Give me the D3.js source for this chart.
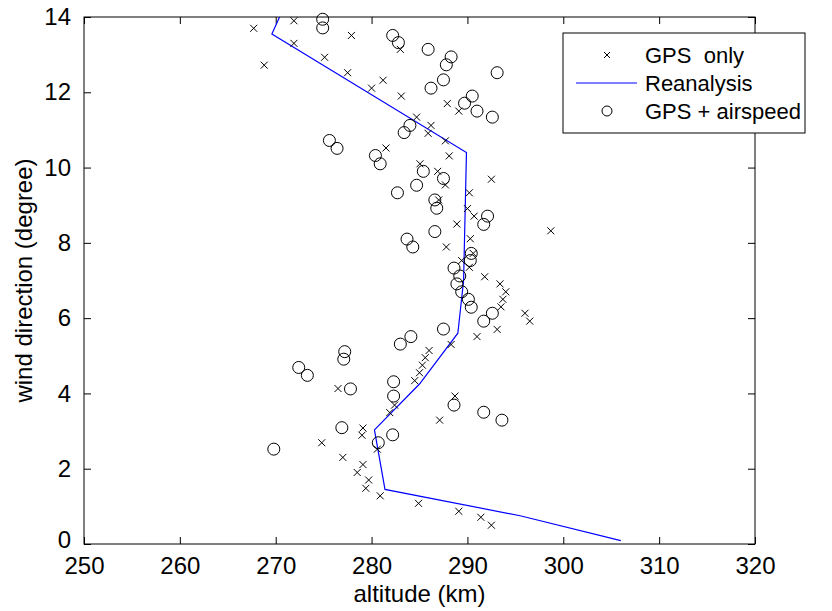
<!DOCTYPE html>
<html>
<head>
<meta charset="utf-8">
<script src="https://cdn.jsdelivr.net/npm/d3@7"></script>
<style>
    body { margin: 0; background: #fff; }
    text { font-family: "Liberation Sans", Arial, sans-serif; }
</style>
</head>
<body>
<div id="chart"></div>
<script>
// GPS only (altitude km, wind direction)
var gpsOnly = [
    [267.7, 13.70], [271.9, 13.90], [268.8, 12.72], [271.9, 13.30], [277.9, 13.51], [275.1, 12.93],
    [283.0, 13.14], [277.5, 12.52], [280.0, 12.11], [281.2, 12.32], [283.1, 11.90], [284.7, 11.34],
    [286.2, 11.12], [285.9, 10.91], [287.9, 11.70], [289.1, 11.50],
    [287.7, 10.71], [281.5, 10.52], [288.1, 10.31], [285.05, 10.10], [286.9, 9.90], [292.5, 9.69],
    [287.7, 9.54], [290.2, 9.33], [287.0, 9.14], [290.0, 8.91], [290.7, 8.71], [288.9, 8.50],
    [290.3, 8.11], [287.8, 7.89], [290.6, 7.72], [289.4, 7.53], [298.7, 8.32],
    [290.2, 7.35], [291.8, 7.10], [293.4, 6.91], [294.0, 6.70], [293.7, 6.50], [293.5, 6.30],
    [296.0, 6.13], [296.5, 5.92], [293.1, 5.70], [291.0, 5.51], [288.3, 5.30], [286.0, 5.14],
    [285.6, 4.95], [285.3, 4.75], [285.0, 4.55], [284.5, 4.34], [276.5, 4.13], [288.7, 3.93],
    [282.4, 3.69], [281.9, 3.49], [287.1, 3.29], [279.1, 3.08], [279.0, 2.89], [274.8, 2.69],
    [280.6, 2.52], [277.0, 2.30], [279.1, 2.11], [278.5, 1.90], [279.7, 1.70], [279.4, 1.48],
    [280.9, 1.28], [284.9, 1.08], [289.1, 0.87], [291.4, 0.71], [292.5, 0.50]
];

// GPS + airspeed
var gpsAirspeed = [
    [274.9, 13.94], [274.9, 13.71], [282.2, 13.51], [282.8, 13.32], [285.9, 13.14], [288.3, 12.94],
    [287.8, 12.73], [293.1, 12.52], [287.5, 12.33], [286.2, 12.11], [290.5, 11.90], [289.7, 11.71],
    [291.0, 11.50], [292.6, 11.34], [284.0, 11.12], [283.4, 10.93],
    [275.6, 10.72], [276.4, 10.51], [280.4, 10.32], [280.9, 10.10], [285.4, 9.90], [287.5, 9.71],
    [284.7, 9.53], [282.7, 9.33], [286.6, 9.14], [286.8, 8.92], [292.1, 8.71], [291.7, 8.49],
    [286.6, 8.30], [283.7, 8.10], [284.3, 7.89], [290.4, 7.72], [290.3, 7.53], [288.6, 7.33],
    [289.2, 7.12], [288.9, 6.91], [289.4, 6.70], [290.1, 6.50], [290.4, 6.29], [292.6, 6.13],
    [291.7, 5.92], [287.5, 5.71], [284.1, 5.51], [283.0, 5.31], [277.2, 5.11], [277.1, 4.91],
    [272.4, 4.69], [273.3, 4.48], [282.3, 4.31], [277.8, 4.12], [282.3, 3.93],
    [288.6, 3.69], [291.7, 3.50], [293.6, 3.29], [276.9, 3.09], [282.2, 2.90], [280.7, 2.69],
    [269.8, 2.52]
];

// Reanalysis profile
var reanalysis = [
    [270.4, 14.0], [269.6, 13.55], [289.9, 10.40], [289.6, 7.0], [289.0, 5.6], [285.0, 4.25],
    [280.3, 3.03], [281.4, 1.45], [295.5, 0.75], [306.0, 0.09]
];

var xTicks = [250, 260, 270, 280, 290, 300, 310, 320];
var yTicks = [0, 2, 4, 6, 8, 10, 12, 14];

var margin = {top: 17, right: 77, bottom: 67, left: 84};
var width = 832 - margin.left - margin.right;
var height = 611 - margin.top - margin.bottom;
var fontSize = 24;

var svg = d3.select("#chart").append("svg")
    .attr("width", 832)
    .attr("height", 611);

var g = svg.append("g")
    .attr("transform", "translate(" + margin.left + "," + margin.top + ")");

var x = d3.scaleLinear().domain([250, 320]).range([0, width]);
var y = d3.scaleLinear().domain([0, 14]).range([height, 0]);

g.append("clipPath").attr("id", "clip")
    .append("rect").attr("width", width).attr("height", height);

// inward ticks on all four sides
function styleAxis(sel) {
    sel.select(".domain").remove();
    sel.selectAll(".tick line").attr("stroke", "#000");
    sel.selectAll("text")
        .attr("fill", "#000")
        .style("font-size", fontSize + "px");
}

g.append("g")
    .attr("transform", "translate(0," + height + ")")
    .call(d3.axisBottom(x).tickValues(xTicks).tickSize(-7).tickPadding(13))
    .call(styleAxis);

g.append("g")
    .call(d3.axisTop(x).tickValues(xTicks).tickSize(-7).tickFormat(""))
    .call(styleAxis);

g.append("g")
    .call(d3.axisLeft(y).tickValues(yTicks).tickSize(-7).tickPadding(13))
    .call(styleAxis)
    .selectAll(".tick text")
    .filter(function (d) { return d === 0; })
    .attr("y", -4);

g.append("g")
    .attr("transform", "translate(" + width + ",0)")
    .call(d3.axisRight(y).tickValues(yTicks).tickSize(-7).tickFormat(""))
    .call(styleAxis);

g.append("rect")
    .attr("width", width)
    .attr("height", height)
    .attr("fill", "none")
    .attr("stroke", "#000")
    .attr("stroke-width", 1);

// Reanalysis line
g.append("path")
    .datum(reanalysis)
    .attr("clip-path", "url(#clip)")
    .attr("fill", "none")
    .attr("stroke", "#0000ff")
    .attr("stroke-width", 1.2)
    .attr("d", d3.line()
        .x(function (d) { return x(d[0]); })
        .y(function (d) { return y(d[1]); }));

function cross(sel, s) {
    sel.attr("d", "M" + (-s) + "," + (-s) + "L" + s + "," + s + "M" + (-s) + "," + s + "L" + s + "," + (-s))
        .attr("fill", "none")
        .attr("stroke", "#000")
        .attr("stroke-width", 1);
}

g.selectAll(".gps")
    .data(gpsOnly)
    .enter().append("path")
    .attr("class", "gps")
    .attr("transform", function (d) { return "translate(" + x(d[0]) + "," + y(d[1]) + ")"; })
    .call(cross, 3.5);

g.selectAll(".air")
    .data(gpsAirspeed)
    .enter().append("circle")
    .attr("class", "air")
    .attr("cx", function (d) { return x(d[0]); })
    .attr("cy", function (d) { return y(d[1]); })
    .attr("r", 6)
    .attr("fill", "none")
    .attr("stroke", "#000")
    .attr("stroke-width", 1);

// axis labels
svg.append("text")
    .attr("x", margin.left + width / 2)
    .attr("y", 602)
    .attr("text-anchor", "middle")
    .style("font-size", fontSize + "px")
    .text("altitude (km)");

svg.append("text")
    .attr("transform", "translate(32," + (margin.top + height / 2) + ") rotate(-90)")
    .attr("text-anchor", "middle")
    .style("font-size", fontSize + "px")
    .text("wind direction (degree)");

// legend
var legend = svg.append("g").attr("transform", "translate(563,33)");
legend.append("rect")
    .attr("width", 242)
    .attr("height", 100)
    .attr("fill", "#fff")
    .attr("stroke", "#000")
    .attr("stroke-width", 1);

var rows = [
    {label: "GPS  only", type: "cross"},
    {label: "Reanalysis", type: "line"},
    {label: "GPS + airspeed", type: "circle"}
];

rows.forEach(function (r, i) {
    var ry = 22 + i * 28;
    if (r.type === "cross") {
        legend.append("path")
            .attr("transform", "translate(44," + ry + ")")
            .call(cross, 3);
    } else if (r.type === "line") {
        legend.append("line")
            .attr("x1", 13).attr("x2", 74)
            .attr("y1", ry).attr("y2", ry)
            .attr("stroke", "#0000ff")
            .attr("stroke-width", 1.2);
    } else {
        legend.append("circle")
            .attr("cx", 44).attr("cy", ry).attr("r", 5)
            .attr("fill", "none")
            .attr("stroke", "#000");
    }
    legend.append("text")
        .attr("x", 82)
        .attr("y", ry + 8)
        .style("font-size", "22px")
        .style("white-space", "pre")
        .attr("xml:space", "preserve")
        .text(r.label);
});
</script>
</body>
</html>
